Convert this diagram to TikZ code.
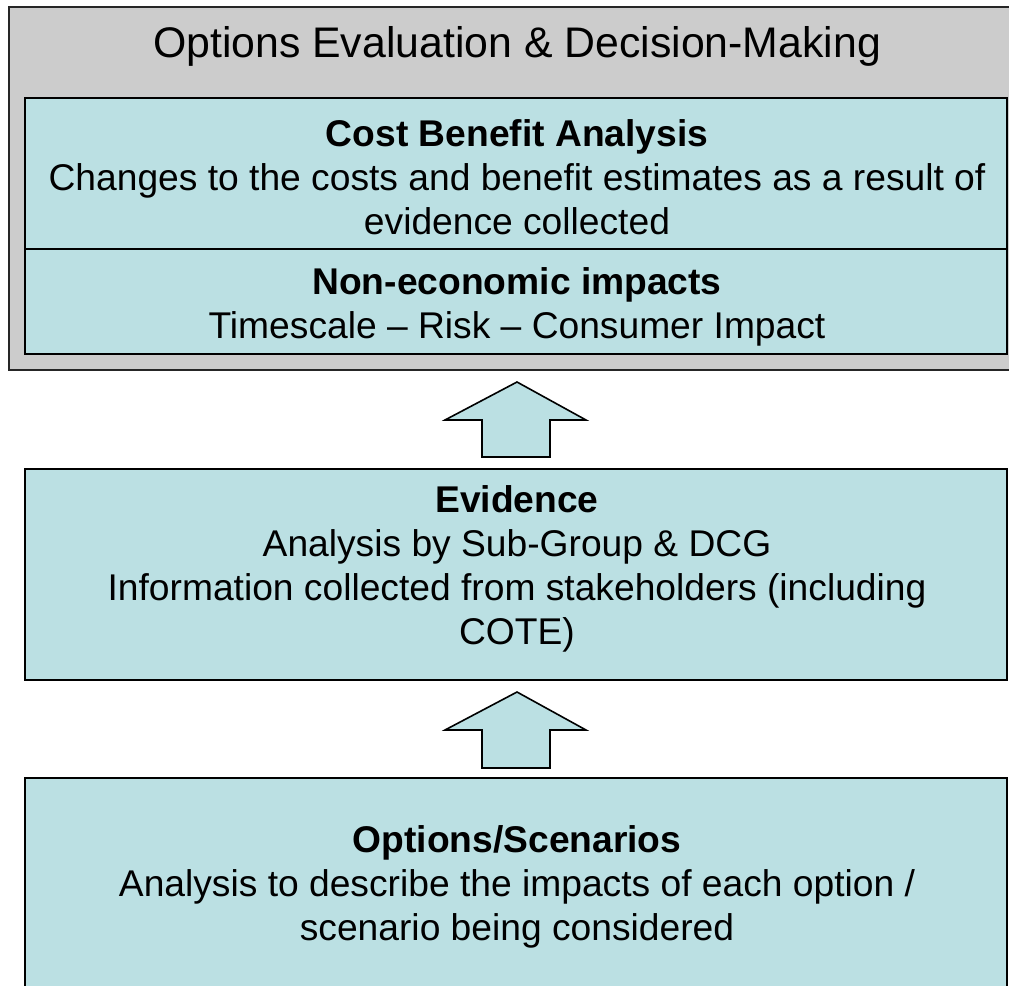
\documentclass[tikz,border=0pt]{standalone}
\usepackage{fontspec}
\setmainfont{Liberation Sans}
\definecolor{boxblue}{RGB}{187,224,227}
\definecolor{boxgray}{RGB}{204,204,204}
\begin{document}
\begin{tikzpicture}[x=1pt,y=-1pt,
  panel/.style={draw=black,line width=2.2pt,fill=boxblue},
  outerpanel/.style={draw=black!85,line width=2.5pt,fill=boxgray},
  blockarrow/.style={draw=black,line width=1.6pt,fill=boxblue,line join=miter},
  txt/.style={align=center,inner sep=0pt,font=\fontsize{37.2}{44}\selectfont},
  ttl/.style={align=center,inner sep=0pt,font=\fontsize{42.8}{50}\selectfont}]
\useasboundingbox (0,0) rectangle (1009,985);
\clip (0,0) rectangle (1009,985);
% outer gray panel
\draw[outerpanel] (9,7) rectangle (1020,370);
\node[ttl] (title) at (517,46) {Options Evaluation \& Decision-Making};
% inner boxes
\draw[panel] (25,98) rectangle (1007,249);
\draw[panel] (25,249) rectangle (1007,354);
\node[txt] (cba) at (517,177) {\textbf{Cost Benefit Analysis}\\Changes to the costs and benefit estimates as a result of\\evidence collected};
\node[txt] (nonecon) at (517,307) {\textbf{Non-economic impacts}\\Timescale – Risk – Consumer Impact};
% evidence
\draw[panel] (25,469) rectangle (1007,680);
\node[txt] (evidence) at (517,569) {\textbf{Evidence}\\Analysis by Sub-Group \& DCG\\Information collected from stakeholders (including\\COTE)};
% options
\draw[panel] (25,778) rectangle (1007,1000);
\node[txt] (options) at (517,887) {\textbf{Options/Scenarios}\\Analysis to describe the impacts of each option /\\scenario being considered};
% block arrows
\draw[blockarrow] (517,382) -- (586,420) -- (550,420) -- (550,457) -- (482,457) -- (482,420) -- (445,420) -- cycle;
\draw[blockarrow] (517,692) -- (586,730) -- (550,730) -- (550,768) -- (482,768) -- (482,730) -- (445,730) -- cycle;
\end{tikzpicture}
\end{document}
